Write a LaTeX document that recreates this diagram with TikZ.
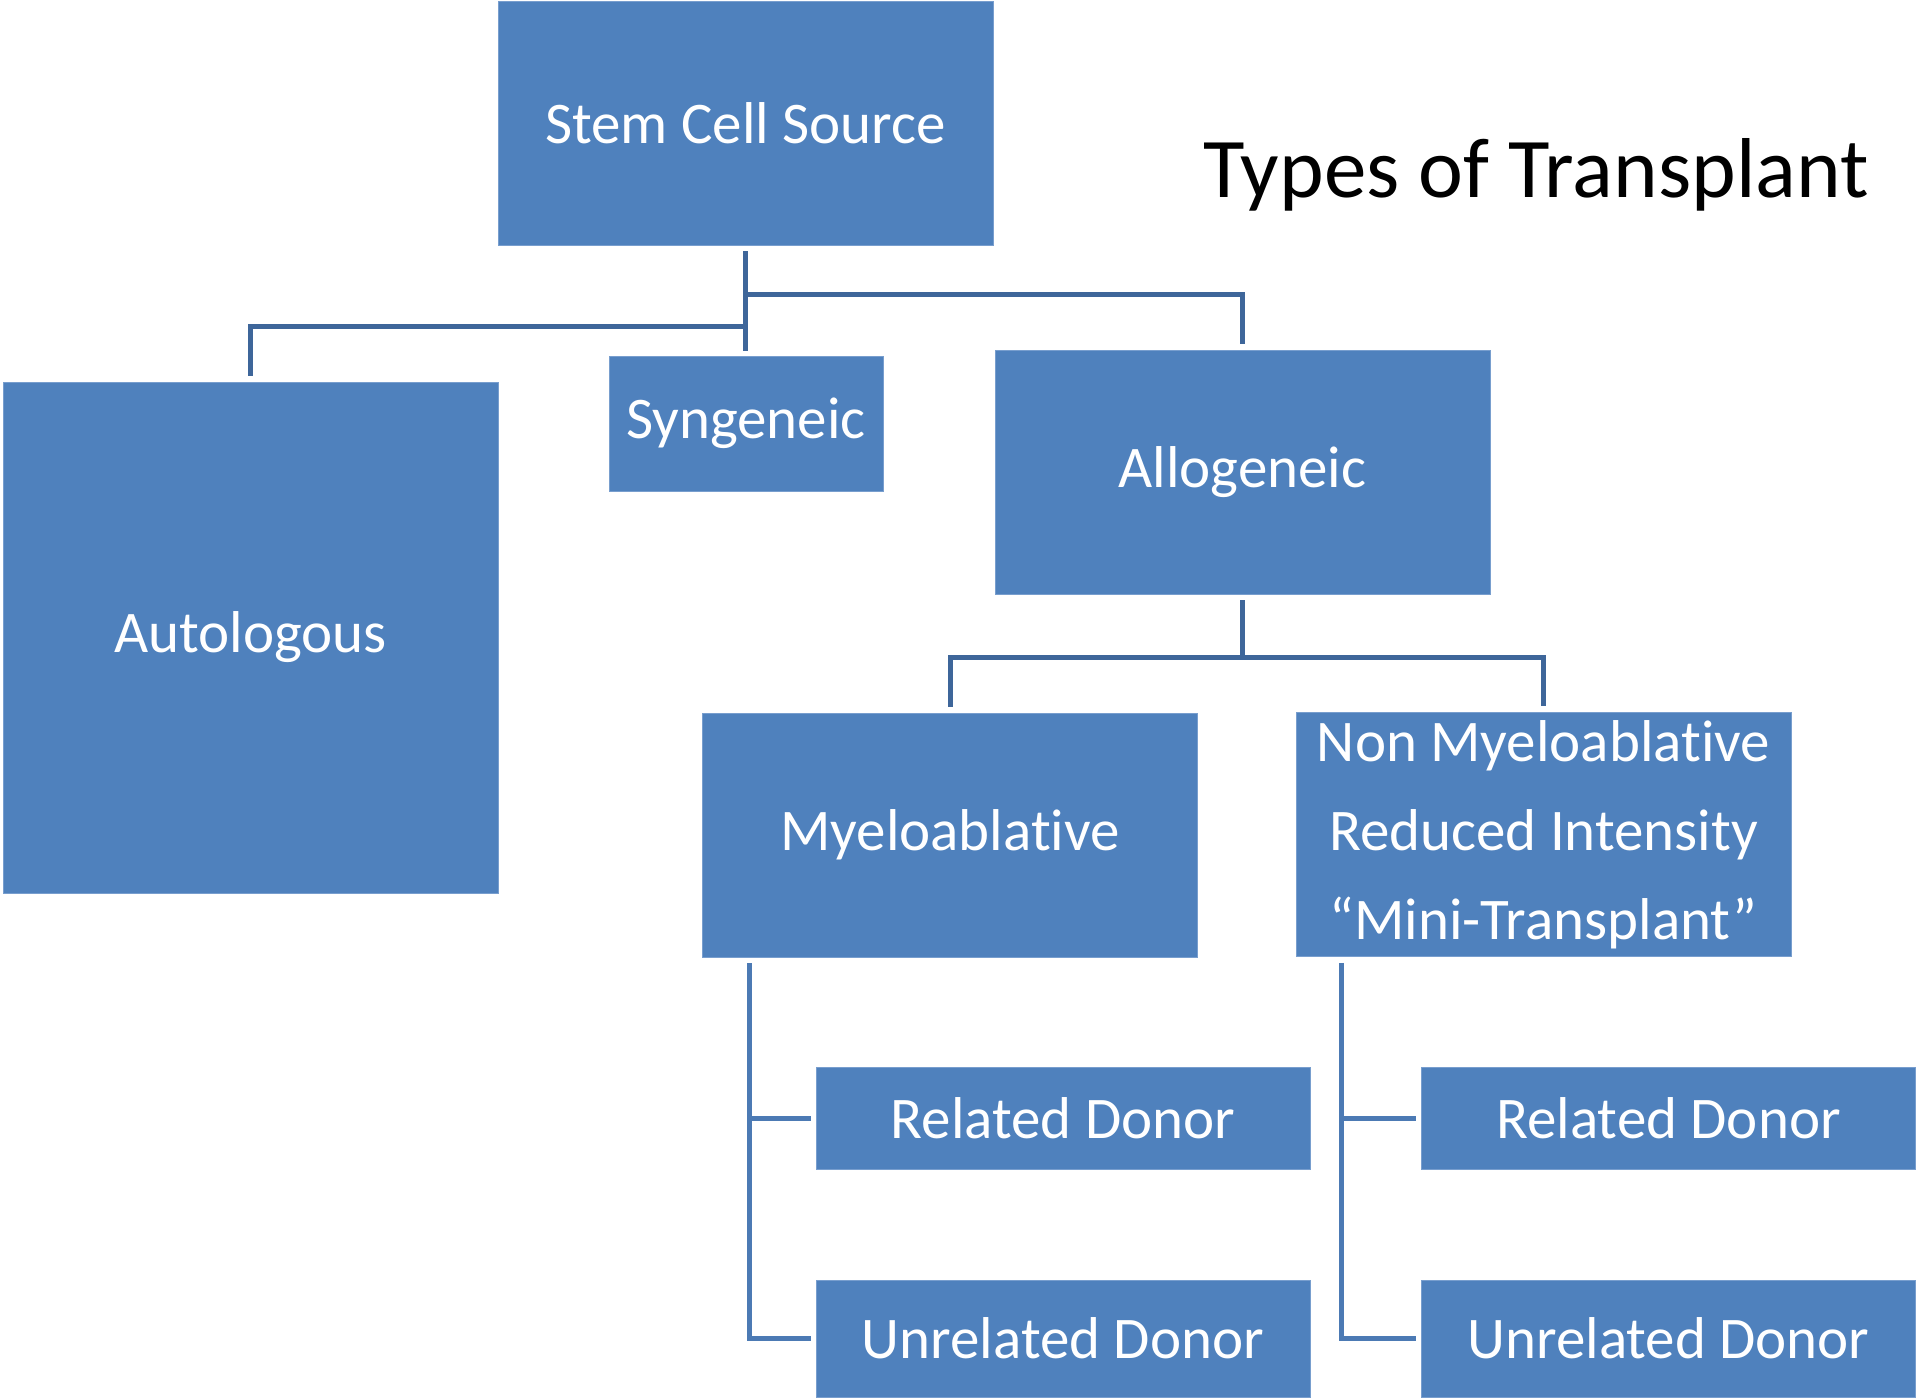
\documentclass[tikz,border=0pt]{standalone}
\usepackage{fontspec}
\setmainfont[Ligatures={NoCommon,NoContextual}]{Carlito}
\definecolor{boxblue}{RGB}{79,129,189}
\definecolor{boxedge}{RGB}{120,158,206}
\definecolor{linkdark}{RGB}{62,102,154}
\definecolor{linklight}{RGB}{76,122,180}
\begin{document}
\begin{tikzpicture}[x=0.5pt,y=-0.5pt,
  blk/.style={draw=boxedge,line width=0.4pt,fill=boxblue,text=white,
    inner sep=0pt,align=center,font=\fontsize{29.5}{44.5}\selectfont},
  wide/.style={blk,minimum width=247.5pt,minimum height=122pt},
  donor/.style={blk,minimum width=247pt},
  link/.style={draw=linkdark,line width=2.5pt},
  sublink/.style={draw=linklight,line width=2.5pt}]

% canvas
\fill[white] (0,0) rectangle (1920,1397);
\useasboundingbox (0,0) rectangle (1920,1397);

% boxes
\node[wide] (stem) at (745.5,123) {Stem Cell Source};
\node[blk,minimum width=247.5pt,minimum height=255.5pt] (auto) at (250.5,637.5) {Autologous};
\node[blk,minimum width=137pt,minimum height=67.5pt] (syn) at (746,423.5) {Syngeneic};
\node[wide] (allo) at (1242.5,472) {Allogeneic};
\node[wide] (myelo) at (950,835) {Myeloablative};
\node[wide] (nonm) at (1543.5,834.5) {Non Myeloablative\\Reduced Intensity\\“Mini-Transplant”};
\node[donor,minimum height=51pt] (rd1) at (1063,1118) {Related Donor};
\node[donor,minimum height=58.5pt] (ud1) at (1063,1338.5) {Unrelated Donor};
\node[donor,minimum height=51pt] (rd2) at (1668.5,1118) {Related Donor};
\node[donor,minimum height=58.5pt] (ud2) at (1668.5,1338.5) {Unrelated Donor};

% title
\node[anchor=base,font=\fontsize{42.5}{50}\selectfont] (title) at (1536,197) {Types of Transplant};

% stem cell source branches
\draw[link] ([yshift=-3pt]stem.south) -- ([yshift=2.5pt]stem.south |- syn.north);
\draw[link] ([yshift=-24.5pt]stem.south) -| ([yshift=3pt]allo.north);
\draw[link] ([yshift=-40.5pt]stem.south) -| ([yshift=3pt]auto.north);

% allogeneic branches
\draw[link] ([yshift=-3pt]allo.south) -- ([yshift=-31.5pt]allo.south);
\draw[link] ([yshift=-31.5pt]allo.south) -| ([yshift=3pt]myelo.north);
\draw[link] ([yshift=-31.5pt]allo.south) -| ([yshift=3pt]nonm.north);

% donor branches under myeloablative
\draw[sublink] ([shift={(23.5pt,-3pt)}]myelo.south west) |- ([xshift=-2.5pt]ud1.west);
\draw[sublink] ([xshift=23.5pt]myelo.south west |- rd1.west) -- ([xshift=-2.5pt]rd1.west);

% donor branches under non myeloablative
\draw[sublink] ([shift={(23pt,-3pt)}]nonm.south west) |- ([xshift=-2.5pt]ud2.west);
\draw[sublink] ([xshift=23pt]nonm.south west |- rd2.west) -- ([xshift=-2.5pt]rd2.west);
\end{tikzpicture}
\end{document}
